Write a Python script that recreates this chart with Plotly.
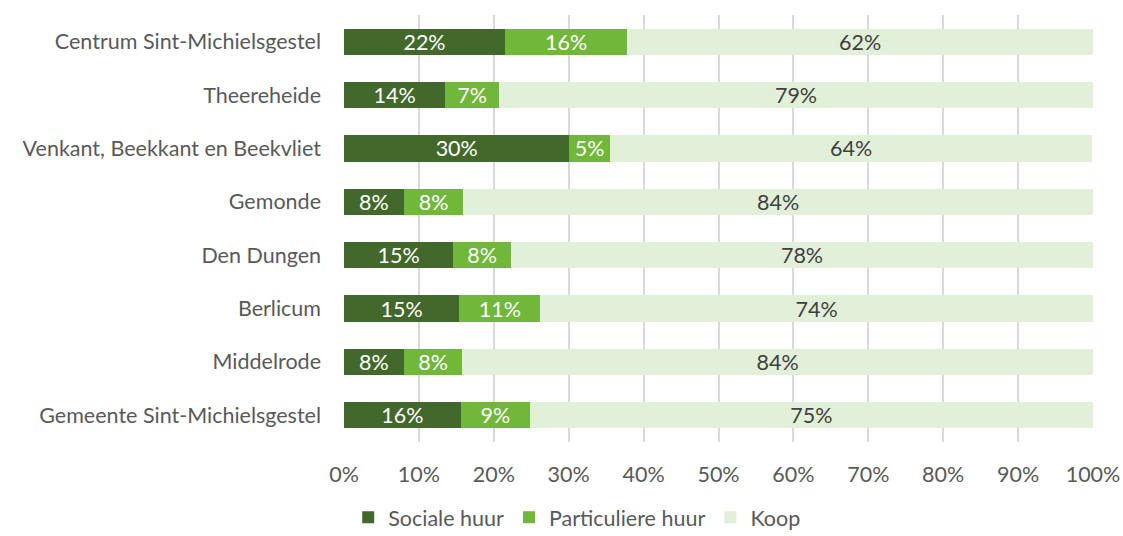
import plotly.graph_objects as go

categories = ["Centrum Sint-Michielsgestel", "Theereheide", "Venkant, Beekkant en Beekvliet",
              "Gemonde", "Den Dungen", "Berlicum", "Middelrode", "Gemeente Sint-Michielsgestel"]
sociale = [21.5, 13.5, 30.1, 8.0, 14.6, 15.4, 8.0, 15.6]
particulier = [16.3, 7.2, 5.4, 7.9, 7.7, 10.8, 7.8, 9.2]
koop = [62.2, 79.3, 64.4, 84.1, 77.7, 73.8, 84.2, 75.2]
series_names = ["Sociale huur", "Particuliere huur", "Koop"]
colors = ["#43682B", "#70B73A", "#E2F0D9"]
text_colors = ["white", "white", "#404040"]
tick_vals = [0, 10, 20, 30, 40, 50, 60, 70, 80, 90, 100]
tick_text = [f"{v}%" for v in tick_vals]

FONT = "Lato, Open Sans, sans-serif"
FS = 21.5
fig = go.Figure()
for name, vals, col, tc in zip(series_names, [sociale, particulier, koop], colors, text_colors):
    fig.add_trace(go.Bar(
        y=categories, x=vals, name=name, orientation="h",
        marker=dict(color=col, line=dict(width=0)),
        text=[f"{round(v):.0f}%" for v in vals], textposition="inside",
        insidetextanchor="middle", textangle=0,
        textfont=dict(color=tc, size=FS, family=FONT),
        constraintext="none", cliponaxis=False,
    ))

fig.update_layout(
    barmode="stack", bargap=0.51,
    width=1123, height=536,
    margin=dict(l=344, r=30, t=15, b=94),
    paper_bgcolor="white", plot_bgcolor="white",
    font=dict(family=FONT, size=FS, color="#595959"),
    uniformtext=dict(minsize=FS, mode="show"),
    xaxis=dict(range=[0, 100], tickvals=tick_vals, ticktext=tick_text,
               showgrid=True, gridcolor="#D9D9D9", gridwidth=1.5, zeroline=False,
               ticks="", tickfont=dict(size=FS, color="#595959"), ticklabelstandoff=17,
               fixedrange=True, automargin=False),
    yaxis=dict(autorange="reversed", ticks="", ticklabelstandoff=22,
               tickfont=dict(size=FS, color="#595959"), showgrid=False, automargin=False),
    legend=dict(orientation="h", xref="container", yref="container",
                x=0.514, xanchor="center", y=0.035, yanchor="middle",
                font=dict(size=FS, color="#595959"), traceorder="normal",
                itemwidth=30),
    showlegend=True,
)
fig.write_html("out.html")
